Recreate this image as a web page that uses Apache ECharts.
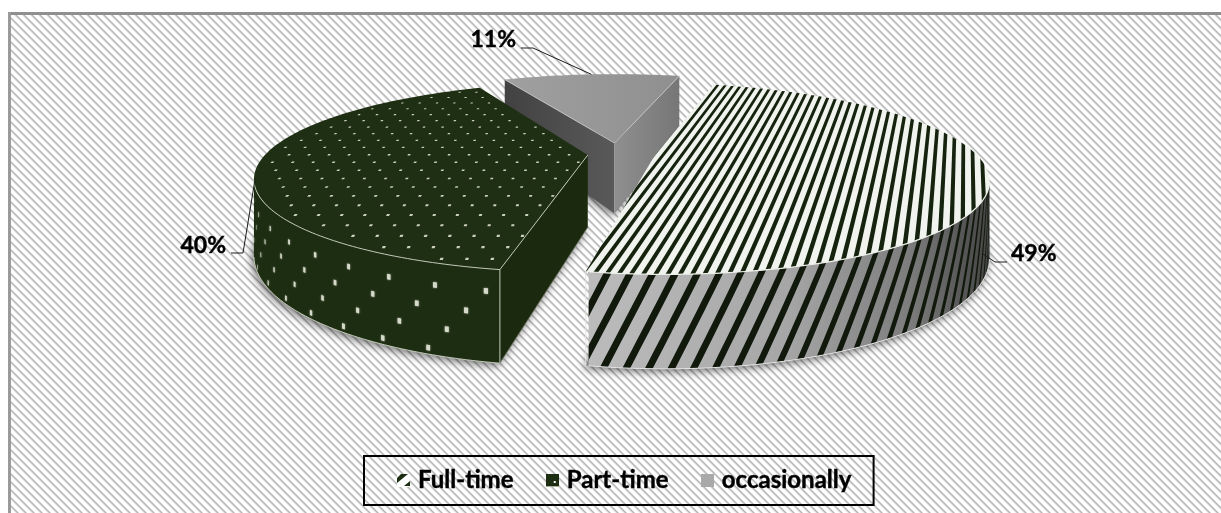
<!DOCTYPE html>
<html>
<head>
<meta charset="utf-8">
<style>
  html, body { margin: 0; padding: 0; background: #fff; }
  #chart { width: 1221px; height: 513px; }
</style>
<script src="https://cdn.jsdelivr.net/npm/echarts@6/dist/echarts.min.js"></script>
</head>
<body>
<div id="chart"></div>
<script>
const categories = ['Full-time', 'Part-time', 'occasionally']
const shares = [49, 40, 11]

// view of the tilted pie, fitted against the picture
const CX = 618.2, CY = 154, RX = 322, RY = 89.5, PERSP = 0.232, DEPTH = 72
const START_DEG = 14.46
const explode = [0.114, 0.095, 0.126]
const FONT = 'bold 23px Lato, "Noto Sans", sans-serif'

const rad = (d) => d * Math.PI / 180
const angles = []
shares.reduce((acc, v, i) => {
  angles[i] = [START_DEG + acc * 3.6, START_DEG + (acc + v) * 3.6]
  return acc + v
}, 0)

function project(u, v, z) {
  const w = 1 - PERSP * v
  return [CX + RX * u / w, CY + RY * v / w + DEPTH * (z || 0) / w]
}
function rimPoint(i, deg, r, z) {
  const mid = rad((angles[i][0] + angles[i][1]) / 2)
  const a = rad(deg)
  return project(
    explode[i] * Math.sin(mid) + r * Math.sin(a),
    -explode[i] * Math.cos(mid) - r * Math.cos(a),
    z
  )
}
function sectorPoints(i, z) {
  const pts = [rimPoint(i, 0, 0, z)]
  for (let d = angles[i][0]; d < angles[i][1]; d += 1) pts.push(rimPoint(i, d, 1, z))
  pts.push(rimPoint(i, angles[i][1], 1, z))
  return pts
}
// part of the rim that faces the viewer
function frontRange(i) {
  let from = null, to = null
  for (let d = angles[i][0]; d < angles[i][1]; d += 1) {
    const next = Math.min(d + 1, angles[i][1])
    if (rimPoint(i, next, 1, 0)[0] < rimPoint(i, d, 1, 0)[0]) {
      if (from === null) from = d
      to = next
    }
  }
  return from === null ? null : [from, to]
}
function rimLine(i, from, to, z) {
  const pts = []
  for (let d = from; d <= to + 0.001; d += 1) pts.push(rimPoint(i, Math.min(d, to), 1, z))
  return pts
}
function wallPoints(i, from, to) {
  return rimLine(i, from, to, 0).concat(rimLine(i, from, to, 1).reverse())
}
const poly = (points, style, extra) => Object.assign({
  type: 'polygon', shape: { points }, silent: true, style
}, extra || {})
const line = (points, stroke, lineWidth) => ({
  type: 'polyline', silent: true, shape: { points }, style: { stroke, lineWidth, fill: null }
})
const linear = (x, stops) => ({
  type: 'linear', x: x[0], y: 0, x2: x[1], y2: 0, global: true,
  colorStops: stops.map((s) => ({ offset: s[0], color: s[1] }))
})

function radialWall(i, deg, fill) {
  return poly([
    rimPoint(i, 0, 0, 0), rimPoint(i, deg, 1, 0), rimPoint(i, deg, 1, 1), rimPoint(i, 0, 0, 1)
  ], { fill })
}
function baseShadow(i, fill) {
  return poly(sectorPoints(i, 1), {
    fill, shadowBlur: 9, shadowColor: 'rgba(0,0,0,0.55)', shadowOffsetX: -2, shadowOffsetY: 3
  })
}

// stripes run parallel on the disc, so perspective fans them out
function topStripes(i, clip) {
  const out = []
  const a = rad(12.7)
  const d = [Math.sin(a), -Math.cos(a)], n = [Math.cos(a), Math.sin(a)]
  for (let c = -1.4; c < 1.4; c += 0.0282) {
    const c2 = c + 0.0112
    out.push(poly([
      project(n[0] * c + d[0] * -2, n[1] * c + d[1] * -1.6),
      project(n[0] * c + d[0] * 2, n[1] * c + d[1] * 2),
      project(n[0] * c2 + d[0] * 2, n[1] * c2 + d[1] * 2),
      project(n[0] * c2 + d[0] * -2, n[1] * c2 + d[1] * -1.6)
    ], { fill: '#14220e' }))
  }
  return { type: 'group', children: out, clipPath: { type: 'polygon', shape: { points: clip } } }
}
function wallStripes(i, range, clip) {
  const out = []
  const pitch = 3.05, width = 1.05, lean = 6.6
  for (let d = range[0] - lean - pitch; d < range[1] + pitch; d += pitch) {
    const a = [], b = []
    for (let z = 0; z <= 1.001; z += 0.1) {
      a.push(rimPoint(i, d + lean * z, 1, z))
      b.unshift(rimPoint(i, d + width + lean * z, 1, z))
    }
    out.push(poly(a.concat(b), { fill: '#11190c' }))
  }
  return { type: 'group', children: out, clipPath: { type: 'polygon', shape: { points: clip } } }
}
function topDots(i) {
  const out = []
  const mid = rad((angles[i][0] + angles[i][1]) / 2)
  const ox = explode[i] * Math.sin(mid), oy = -explode[i] * Math.cos(mid)
  let row = 0
  for (let v = -1.0; v < 1.05; v += 0.083) {
    const shift = row % 2 ? 0.031 : 0
    for (let u = -1.05 + shift; u < 0.6; u += 0.062) {
      let a = Math.atan2(u, -v) * 180 / Math.PI
      while (a < angles[i][0]) a += 360
      if (u * u + v * v > 0.955 || a > angles[i][1] - 2) continue
      const x = ox + u, y = oy + v
      const hu = 0.004, hv = 0.008
      out.push(poly([
        project(x - hu, y - hv), project(x + hu, y - hv), project(x + hu, y + hv), project(x - hu, y + hv)
      ], { fill: '#c9d0bb' }))
    }
    row++
  }
  return out
}
function wallDots(i, range) {
  const out = []
  const rows = [0.24, 0.47, 0.7, 0.93]
  const pitch = 7.6
  rows.forEach((z, r) => {
    for (let d = range[0] + 2 + r * pitch * 0.38; d < range[1] - 0.8; d += pitch) {
      const hd = 0.3, hz = 0.03
      out.push(poly([
        rimPoint(i, d - hd, 1, z - hz), rimPoint(i, d + hd, 1, z - hz),
        rimPoint(i, d + hd, 1, z + hz), rimPoint(i, d - hd, 1, z + hz)
      ], { fill: '#d5dacb', shadowBlur: 2, shadowColor: '#a9b09c' }))
    }
  })
  return out
}

// how far down the wall each leader starts, then the elbow and the tail
const leaderZ = [1, 0.18, 0]
const leaderShift = [[-7, 0], [-2, 0], [0, 0]]
const leaderElbow = [[995, 262], [243, 253], [533, 48]]
const leaderEnd = [[1007, 262], [231, 253], [521, 48]]
const labelPos = [[1011, 254, 'left'], [226, 246, 'right'], [516, 40, 'right']]

function labelParts(i, value) {
  const mid = (angles[i][0] + angles[i][1]) / 2
  const s = rimPoint(i, mid, 1, leaderZ[i])
  const p = labelPos[i]
  return [
    line([[s[0] + leaderShift[i][0], s[1] + leaderShift[i][1]], leaderElbow[i], leaderEnd[i]], '#1a1a1a', 1),
    {
      type: 'text', silent: true,
      style: {
        text: value + '%', x: p[0], y: p[1], align: p[2], verticalAlign: 'middle', font: FONT, fill: '#000',
        stroke: '#000', lineWidth: 0.4
      }
    }
  ]
}

function renderSlice(i, value) {
  const kids = []
  const top = sectorPoints(i, 0)
  const range = frontRange(i)
  const edge = '#d6dbcc'
  if (i === 0) {
    kids.push(baseShadow(i, '#888'))
    const wall = wallPoints(i, range[0], range[1])
    kids.push(poly(wall, { fill: linear([585, 990], [[0, '#bcbcbc'], [0.5, '#a6a6a6'], [0.8, '#7d7d7d'], [1, '#444']]) }))
    kids.push(wallStripes(i, range, wall))
    kids.push(poly(top, { fill: '#f1f3ee' }))
    kids.push(topStripes(i, top))
    kids.push(line(rimLine(i, range[0], range[1], 0), '#eef0ea', 1.2))
    kids.push(line(rimLine(i, range[0], range[1], 1), '#e4e4e4', 1))
    const c = rimPoint(i, angles[i][1], 1, 0)
    kids.push(line([c, rimPoint(i, angles[i][1], 1, 1)], '#e4e4e4', 1))
  } else if (i === 1) {
    kids.push(baseShadow(i, '#1c2c10'))
    kids.push(radialWall(i, angles[i][0], '#1b2a0f'))
    const wall = wallPoints(i, range[0], range[1])
    kids.push(poly(wall, { fill: '#1d2d11' }))
    kids.push.apply(kids, wallDots(i, range))
    kids.push(poly(top, { fill: '#1f2f13' }))
    kids.push.apply(kids, topDots(i))
    const apex = rimPoint(i, 0, 0, 0), c = rimPoint(i, angles[i][0], 1, 0)
    kids.push(line([apex, c], edge, 0.9))
    kids.push(line([c, rimPoint(i, angles[i][0], 1, 1)], edge, 0.9))
    kids.push(line(rimLine(i, range[0], range[1], 0), edge, 0.9))
    kids.push(line(rimLine(i, range[0], range[1], 1), edge, 0.9))
    kids.push(line([rimPoint(i, angles[i][0], 1, 1), rimPoint(i, 0, 0, 1)], '#8b9180', 0.8))
  } else {
    kids.push(baseShadow(i, '#555'))
    kids.push(radialWall(i, angles[i][0], linear([502, 618], [[0, '#414141'], [1, '#5a5a5a']])))
    kids.push(radialWall(i, angles[i][1], linear([618, 680], [[0, '#8e8e8e'], [1, '#767676']])))
    kids.push(poly(top, { fill: linear([502, 680], [[0, '#a0a0a0'], [1, '#8f8f8f']]) }))
    const apex = rimPoint(i, 0, 0, 0)
    kids.push(line([rimPoint(i, angles[i][0], 1, 0), apex, rimPoint(i, angles[i][1], 1, 0)], '#c4c4c4', 0.9))
    kids.push(line([apex, rimPoint(i, 0, 0, 1)], '#a8a8a8', 0.8))
  }
  kids.push.apply(kids, labelParts(i, value))
  return { type: 'group', children: kids }
}

// pattern tile for the plot area: thin downward diagonal
function hatchTile() {
  const c = document.createElement('canvas')
  c.width = 8; c.height = 8
  const g = c.getContext('2d')
  const shades = ['#cfcfcf', '#b5b5b5', '#dadada', '#fff', '#fff', '#fff', '#fff', '#efefef']
  for (let y = 0; y < 8; y++) {
    for (let x = 0; x < 8; x++) {
      g.fillStyle = shades[((x - y) % 8 + 8) % 8]
      g.fillRect(x, y, 1, 1)
    }
  }
  return c
}
function legendIcon(draw) {
  const c = document.createElement('canvas')
  c.width = 13; c.height = 13
  draw(c.getContext('2d'))
  return 'image://' + c.toDataURL()
}
const icons = [
  legendIcon((g) => {
    g.fillStyle = '#fff'; g.fillRect(0, 0, 13, 13)
    g.fillStyle = '#1d2d11'
    g.beginPath(); g.moveTo(4, 0); g.lineTo(11, 0); g.lineTo(0, 9); g.lineTo(0, 4); g.fill()
    g.beginPath(); g.moveTo(13, 7); g.lineTo(13, 12); g.lineTo(7, 12); g.fill()
  }),
  legendIcon((g) => {
    g.fillStyle = '#1d2d11'; g.fillRect(0, 0, 13, 13)
    g.fillStyle = '#a8b09c'; g.fillRect(0, 12, 13, 1)
    g.fillStyle = '#fff'; g.fillRect(8, 7, 2, 2)
  }),
  legendIcon((g) => { g.fillStyle = '#a9a9a9'; g.fillRect(0, 0, 13, 13) })
]

const chart = echarts.init(document.getElementById('chart'), null, { renderer: 'canvas' })
chart.setOption({
  animation: false,
  backgroundColor: '#fff',
  graphic: [
    { type: 'rect', silent: true, z: 0, shape: { x: 10, y: 14, width: 1211, height: 499 }, style: { fill: { image: hatchTile(), repeat: 'repeat' } } },
    { type: 'rect', silent: true, z: 0, shape: { x: 8, y: 12, width: 1213, height: 3 }, style: { fill: '#8f8f8f' } },
    { type: 'rect', silent: true, z: 0, shape: { x: 8, y: 12, width: 3, height: 501 }, style: { fill: '#9a9a9a' } }
  ],
  legend: {
    left: 364, top: 456,
    orient: 'horizontal',
    selectedMode: false,
    borderColor: '#000', borderWidth: 2, borderRadius: 0,
    padding: [12, 22, 12, 33],
    itemWidth: 13, itemHeight: 13, itemGap: 32,
    textStyle: {
      color: '#000', fontFamily: 'Lato, "Noto Sans", sans-serif', fontWeight: 'bold', fontSize: 24, lineHeight: 25,
      padding: [0, 0, 0, 3], textBorderColor: '#000', textBorderWidth: 0.4
    },
    data: categories.map((name, i) => ({ name, icon: icons[i] }))
  },
  series: [2, 1, 0].map((i) => ({
    type: 'custom',
    name: categories[i],
    coordinateSystem: 'none',
    clip: false,
    silent: true,
    data: [[shares[i]]],
    renderItem: (params, api) => renderSlice(i, api.value(0))
  }))
})
</script>
</body>
</html>
